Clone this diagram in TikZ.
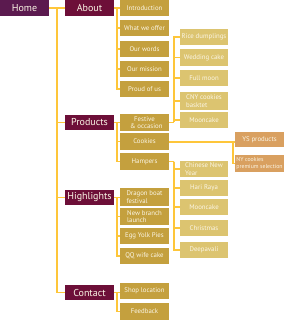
\documentclass[tikz,border=0pt]{standalone}
\usepackage{fontspec}
\setmainfont{PT Sans}
\usetikzlibrary{backgrounds}
\definecolor{homec}{HTML}{5B1A4F}
\definecolor{topc}{HTML}{6D0F38}
\definecolor{midc}{HTML}{C4A03E}
\definecolor{lowc}{HTML}{DCC470}
\definecolor{orc}{HTML}{D9A060}
\definecolor{linec}{HTML}{FEC63A}
\definecolor{txtc}{HTML}{FBF6E6}
\tikzset{
  box/.style={inner sep=0pt, text=txtc, align=center},
  topbox/.style={box, fill=topc, minimum width=49pt, minimum height=15.5pt, font=\fontsize{10}{11}\selectfont},
  midbox/.style={box, fill=midc, minimum width=49pt, minimum height=16.5pt, font=\fontsize{6.8}{7.5}\selectfont},
  lowbox/.style={box, fill=lowc, minimum width=48pt, minimum height=16.5pt, font=\fontsize{6.8}{7.5}\selectfont},
  orbox/.style={box, fill=orc, minimum width=49pt, minimum height=15.5pt, font=\fontsize{6.8}{7.5}\selectfont},
  link/.style={draw=linec, line width=1.9pt},
}
\begin{document}
\begin{tikzpicture}[x=1pt,y=-1pt]
\useasboundingbox (0,0) rectangle (284,320);
% level 0/1
\node[topbox, fill=homec] (home) at (24.5,8) {Home};
\node[topbox] (about) at (89.5,8) {About};
\node[topbox] (products) at (89.5,122.5) {Products};
\node[topbox] (highlights) at (89.5,197.5) {Highlights};
\node[topbox] (contact) at (89.5,292.5) {Contact};
% about children
\node[midbox, minimum height=16pt] (intro) at (144.5,8) {Introduction};
\node[midbox, minimum height=16pt] (offer) at (144.5,28) {What we offer};
\node[midbox, minimum height=16pt] (words) at (144.5,49) {Our words};
\node[midbox, minimum height=16pt] (mission) at (144.5,69) {Our mission};
\node[midbox, minimum height=16pt] (proud) at (144.5,89) {Proud of us};
% products children
\node[midbox] (festive) at (144.5,122.5) {Festive\\\ \ \& occasion};
\node[midbox] (cookies) at (144.5,141.5) {Cookies};
\node[midbox] (hampers) at (144.5,161.5) {Hampers};
% highlights children
\node[midbox, minimum height=18pt, align=left] (dragon) at (144.5,197) {Dragon boat\\festival};
\node[midbox, minimum height=17pt, align=left] (branch) at (144.5,216.5) {New branch\\launch};
\node[midbox] (egg) at (144.5,236) {Egg Yolk Pies};
\node[midbox] (qq) at (144.5,256) {QQ wife cake};
% contact children
\node[midbox, minimum height=16pt] (shop) at (144.5,291) {Shop location};
\node[midbox, minimum height=17pt] (feedback) at (144.5,311.5) {Feedback};
% festive children
\node[lowbox] (rice) at (204,37) {Rice dumplings};
\node[lowbox] (wedding) at (204,57.5) {Wedding cake};
\node[lowbox] (fullmoon) at (204,78) {Full moon};
\node[lowbox, minimum height=18pt, align=left] (cny) at (204,101) {CNY cookies\\basktet};
\node[lowbox, minimum height=16pt] (moon1) at (204,120) {Mooncake};
% hampers children
\node[lowbox, align=left] (chinese) at (204,169) {Chinese New\\Year};
\node[lowbox] (hari) at (204,188) {Hari Raya};
\node[lowbox] (moon2) at (204,207) {Mooncake};
\node[lowbox] (xmas) at (204,228) {Christmas};
\node[lowbox] (deepavali) at (204,250) {Deepavali};
% cookies children
\node[orbox] (ys) at (259.5,139.5) {YS products};
\node[orbox, minimum height=17pt, align=left, font=\fontsize{5.8}{7}\selectfont] (ny) at (259.5,163.5) {NY cookies\\premium selection};
% connectors
\begin{scope}[on background layer]
\coordinate (spine) at (57,8);
\draw[link] (home.east) -- (about.west);
\draw[link] (spine) |- (products.west);
\draw[link] (spine) |- (highlights.west);
\draw[link] (spine) |- (contact.west);
% about
\coordinate (ab) at (117,8);
\draw[link] (about.east) -- (intro.west);
\foreach \n in {offer,words,mission,proud} \draw[link] (ab) |- (\n.west);
% products
\coordinate (pb) at (117,122.5);
\draw[link] (products.east) -- (festive.west);
\foreach \n in {cookies,hampers} \draw[link] (pb) |- (\n.west);
% highlights
\coordinate (hb) at (117,197.5);
\draw[link] (highlights.east) -- (dragon.west |- highlights.east);
\foreach \n in {branch,egg,qq} \draw[link] (hb) |- (\n.west);
% contact
\coordinate (cb) at (117,292.5);
\draw[link] (contact.east) -- (shop.west |- contact.east);
\draw[link] (cb) |- (feedback.west);
% festive
\coordinate (fb) at (174,122.5);
\draw[link] (festive.east) -- (fb);
\foreach \n in {rice,wedding,fullmoon,cny,moon1} \draw[link] (fb) |- (\n.west);
% hampers
\coordinate (hmb) at (174,161.5);
\draw[link] (hampers.east) -- (hmb);
\foreach \n in {chinese,hari,moon2,xmas,deepavali} \draw[link] (hmb) |- (\n.west);
% cookies
\coordinate (cob) at (233,142);
\draw[link] (cookies.east |- cob) -- (ys.west |- cob);
\draw[link] (cob) |- (ny.west);
\end{scope}
\end{tikzpicture}
\end{document}
